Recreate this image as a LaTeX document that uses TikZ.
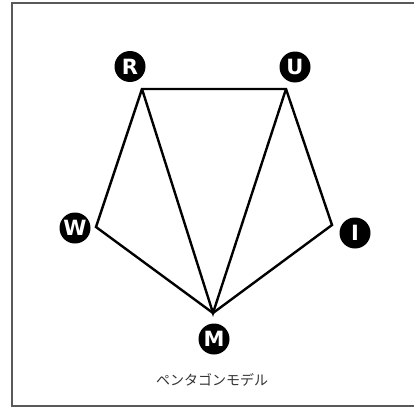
\documentclass[tikz,border=0pt]{standalone}
\usepackage{fontspec}
\setmainfont{Liberation Sans}
\newfontfamily\badgefont{DejaVu Sans}
\newfontfamily\jpfont{Noto Sans CJK JP}
\begin{document}
\begin{tikzpicture}[x=1pt,y=-1pt,
  badge/.style={circle,fill=black,minimum size=31pt,inner sep=0pt,text=white,font=\badgefont\fontsize{21}{21}\selectfont\bfseries},
  edge/.style={line width=2.4pt,line join=miter}]
\useasboundingbox (0,0) rectangle (414,412);
\draw[line width=2.2pt,color=black!65] (12,3) rectangle (430,406);
\coordinate (vR) at (142,89);
\coordinate (vU) at (286,89);
\coordinate (vW) at (96,227);
\coordinate (vI) at (332,225);
\coordinate (vM) at (213,313);
\node[badge] (R) at (130,66.5) {R};
\node[badge] (U) at (295,67) {U};
\node[badge] (W) at (75,228) {W};
\node[badge] (I) at (355,233) {I};
\node[badge] (M) at (214,339) {M};
\draw[edge] (vW) -- (vR) -- (vU) -- (vI) -- (vM) -- cycle;
\draw[edge] (vR) -- (vM) -- (vU);
\node[font=\jpfont\fontsize{14}{14}\selectfont,text=black!80] (cap) at (212,380) {ペンタゴンモデル};
\end{tikzpicture}
\end{document}
